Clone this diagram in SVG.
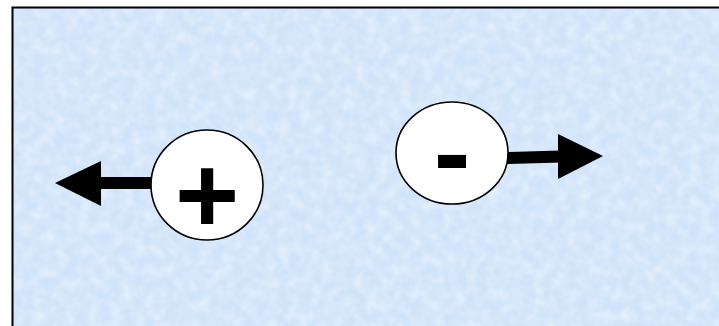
<svg xmlns="http://www.w3.org/2000/svg" width="719" height="326" viewBox="0 0 719 326">
<defs>
<filter id="tex" x="0" y="0" width="100%" height="100%" color-interpolation-filters="sRGB">
<feTurbulence type="fractalNoise" baseFrequency="0.09" numOctaves="2" seed="3" result="n"/>
<feColorMatrix in="n" type="matrix" values="0 0 0 0 1  0 0 0 0 1  0 0 0 0 1  0 0 0 0.7 -0.2"/>
</filter>
<style>
.node{fill:#ffffff;stroke:#000000;stroke-width:1.6}
.sign{font-family:"Liberation Sans",Arial,sans-serif;font-weight:bold;font-size:110px;fill:#000000;text-anchor:middle}
.shaft{stroke:#000000;stroke-width:12;fill:none}
.head{fill:#000000}
</style>
</defs>
<rect x="0" y="0" width="719" height="326" fill="#ffffff"/>
<rect x="12.5" y="7.5" width="710" height="330" fill="#cfe3fa" stroke="#000000" stroke-width="2"/>
<rect x="14" y="9" width="705" height="317" filter="url(#tex)"/>
<g id="connectors">
<line class="shaft" x1="152" y1="183" x2="98" y2="183"/>
<polygon class="head" points="55,183 101,161 101,206"/>
<line class="shaft" x1="507" y1="158" x2="561" y2="156.5"/>
<polygon class="head" points="603,156 558,134 558,179"/>
</g>
<g id="plus">
<ellipse class="node" cx="207" cy="185" rx="56" ry="55"/>
<text class="sign" x="207" y="233">+</text>
</g>
<g id="minus">
<ellipse class="node" cx="452" cy="153" rx="56" ry="51"/>
<text class="sign" x="452" y="190">-</text>
</g>
</svg>
